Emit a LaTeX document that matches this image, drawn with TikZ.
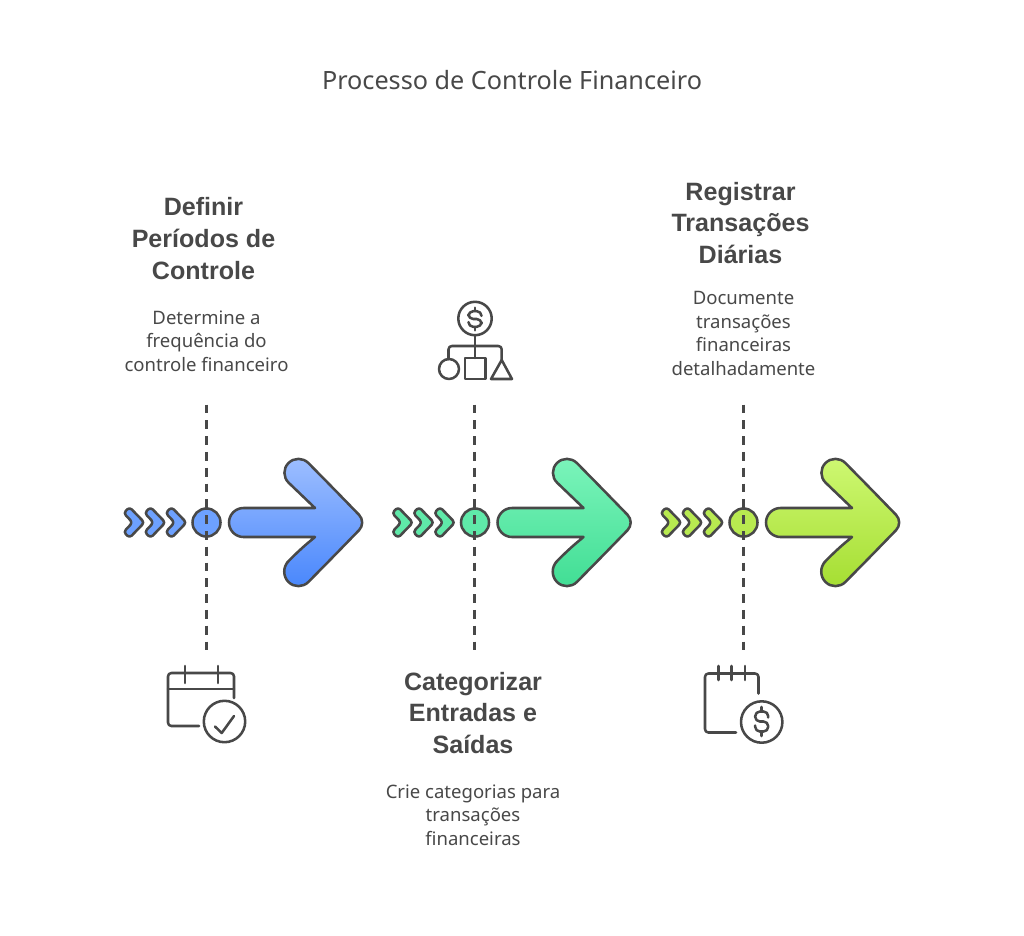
\documentclass[tikz,border=0pt]{standalone}
\usepackage{fontspec}
\setmainfont{Noto Sans}[BoldFont={Liberation Sans Bold}]
\definecolor{ink}{HTML}{484848}
\definecolor{bluetop}{HTML}{A0C0FF}\definecolor{bluebot}{HTML}{4685FC}\definecolor{bluemid}{HTML}{6DA1FF}
\definecolor{greentop}{HTML}{7DF5BC}\definecolor{greenbot}{HTML}{3FDD93}\definecolor{greenmid}{HTML}{5FE9A9}
\definecolor{limetop}{HTML}{CFF974}\definecolor{limebot}{HTML}{A4DD30}\definecolor{limemid}{HTML}{B8EA50}
\tikzset{
  outline/.style={draw=ink,line width=1.9pt,line join=round},
  iconline/.style={draw=ink,line width=1.9pt,line cap=round,line join=round,rounded corners=2.5pt},
  cutline/.style={draw=ink,line width=2.1pt,dash pattern=on 6.6pt off 5.25pt},
  dotnode/.style={outline,circle,inner sep=0pt,minimum size=21pt},
  titletext/.style={text=ink,font=\fontsize{18.9pt}{24pt}\selectfont,align=center},
  headtext/.style={text=ink,font=\fontsize{18.8pt}{23.8pt}\selectfont\bfseries,align=center},
  bodytext/.style={text=ink,font=\fontsize{13.9pt}{17.8pt}\selectfont,align=center},
  pics/chevron/.style={code={
    \draw[outline,fill=#1,rounded corners=2.4pt](5.5,-15.4)--(20.4,0)--(5.5,15.4)--(-.4,9.5)--(8.6,0)--(-.4,-9.5)--cycle;
  }},
  pics/bigarrow/.style 2 args={code={
    \draw[outline,top color=#1,bottom color=#2]
      (60,-14.5)[sharp corners]--(108.5,-14.5)
      [rounded corners=10.6pt]--(72,-49.5)--(92,-69.5)--(125,-36)[rounded corners=8pt]--(160,0)--(125,36)
      [rounded corners=10.6pt]--(92,69.5)--(72,49.5)--(90,30)[sharp corners]--(108.5,14.5)
      [rounded corners=10.9pt]--(60,14.5)--(22.5,14.5)--(22.5,-14.5)--cycle;
  }},
  pics/dollar/.style={code={
    \draw[iconline,rounded corners=3.5pt](6.5,-4)--(6.5,-10)--(-6.5,-10)--(-6.5,0)--(6.5,0)--(6.5,10)--(-6.5,10)--(-6.5,4);
    \draw[iconline](0,-14.5)--(0,-10);
    \draw[iconline](0,10)--(0,14.5);
  }}
}
\begin{document}
\begin{tikzpicture}[x=.75pt,y=-.75pt]
  \useasboundingbox (0,0) rectangle (1024,935);
  \node[titletext] (title) at (512,80) {Processo de Controle Financeiro};
  % texts
  \node[headtext] (headone) at (203.5,238.5) {Definir\\Períodos de\\Controle};
  \node[bodytext] (bodyone) at (206.5,341) {Determine a\\frequência do\\controle financeiro};
  \node[headtext] (headtwo) at (473,713) {Categorizar\\Entradas e\\Saídas};
  \node[bodytext] (bodytwo) at (473,815) {Crie categorias para\\transações\\financeiras};
  \node[headtext] (headthree) at (740.5,223) {Registrar\\Transações\\Diárias};
  \node[bodytext] (bodythree) at (743.5,333.5) {Documente\\transações\\financeiras\\detalhadamente};
  % first step
  \node[dotnode,fill=bluemid] (dotone) at (206.5,522.5) {};
  \coordinate (topone) at (206.4,404.5);
  \coordinate (botone) at (206.4,652);
  \draw[cutline] (topone)--(botone);
  \pic at (124,522.5) {chevron=bluemid};
  \pic at (145,522.5) {chevron=bluemid};
  \pic at (166,522.5) {chevron=bluemid};
  \pic at (dotone) {bigarrow={bluetop}{bluebot}};
  % second step
  \node[dotnode,fill=greenmid] (dottwo) at (475,522.5) {};
  \coordinate (toptwo) at (474.4,404.5);
  \coordinate (bottwo) at (474.4,652);
  \draw[cutline] (toptwo)--(bottwo);
  \pic at (392.5,522.5) {chevron=greenmid};
  \pic at (413.5,522.5) {chevron=greenmid};
  \pic at (434.5,522.5) {chevron=greenmid};
  \pic at (dottwo) {bigarrow={greentop}{greenbot}};
  % third step
  \node[dotnode,fill=limemid] (dotthree) at (743.5,522.5) {};
  \coordinate (topthree) at (743.4,404.5);
  \coordinate (botthree) at (743.4,652);
  \draw[cutline] (topthree)--(botthree);
  \pic at (661,522.5) {chevron=limemid};
  \pic at (682,522.5) {chevron=limemid};
  \pic at (703,522.5) {chevron=limemid};
  \pic at (dotthree) {bigarrow={limetop}{limebot}};
  % calendar with check
  \draw[iconline] (199,726)--(168,726)--(168,673)--(234,673)--(234,698);
  \draw[iconline] (168,689)--(234,689);
  \draw[iconline] (185,666)--(185,683);
  \draw[iconline] (218,666)--(218,683);
  \draw[iconline] (224.5,721.5) circle (20.7);
  \draw[iconline,sharp corners] (215,726.5)--(221.7,733)--(234,716);
  % dollar with shapes
  \draw[iconline] (475,318.5) circle (16.7);
  \pic[yscale=.78] at (475,319) {dollar};
  \draw[iconline] (475,335.2)--(475,358);
  \draw[iconline] (448.5,359)--(448.5,346)--(501.7,346)--(501.7,360);
  \draw[iconline] (449,369) circle (10);
  \draw[iconline,sharp corners] (465,358) rectangle (485.5,379);
  \draw[iconline,sharp corners] (491,379)--(512,379)--(501.7,360)--cycle;
  % notepad with dollar
  \draw[iconline] (736,732.5)--(705,732.5)--(705,673.5)--(758.5,673.5)--(758.5,693.5);
  \draw[iconline] (718.5,666)--(718.5,680);
  \draw[iconline] (731.7,666)--(731.7,680);
  \draw[iconline] (745,666)--(745,680);
  \draw[iconline] (761.7,722) circle (20.7);
  \pic at (761.7,721.5) {dollar};
\end{tikzpicture}
\end{document}
